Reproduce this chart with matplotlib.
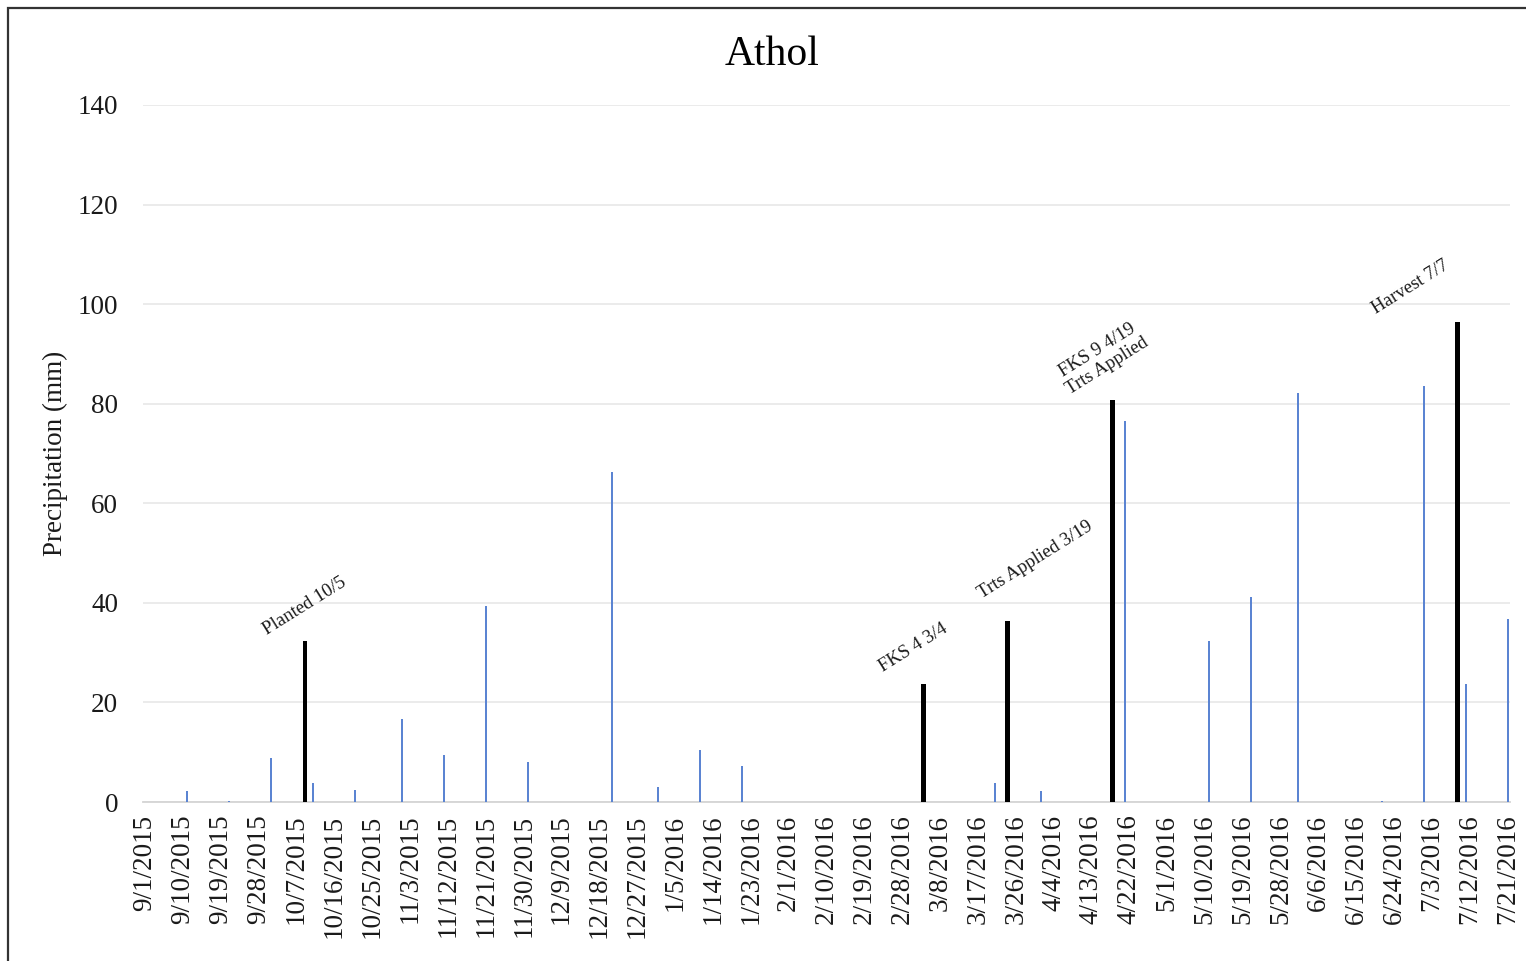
import matplotlib
matplotlib.use("Agg")
import matplotlib.pyplot as plt
import matplotlib.dates as mdates
from matplotlib.patches import Rectangle
import numpy as np
import pandas as pd

plt.rcParams['font.family'] = ['Liberation Serif', 'DejaVu Serif']

# ---- data ----
title = "Athol"
y_label = "Precipitation (mm)"

precip_dates = ['2015-09-11', '2015-09-21', '2015-10-01', '2015-10-11', '2015-10-21',
                '2015-11-01', '2015-11-11', '2015-11-21', '2015-12-01', '2015-12-11',
                '2015-12-21', '2016-01-01', '2016-01-11', '2016-01-21', '2016-02-01',
                '2016-02-11', '2016-02-21', '2016-03-01', '2016-03-11', '2016-03-21',
                '2016-04-01', '2016-04-11', '2016-04-21', '2016-05-01', '2016-05-11',
                '2016-05-21', '2016-06-01', '2016-06-11', '2016-06-21', '2016-07-01',
                '2016-07-11', '2016-07-21']
precip_mm = [2.2, 0.2, 8.9, 3.8, 2.5,
             16.6, 9.4, 39.3, 8.1, 0.0,
             66.3, 3.0, 10.5, 7.2, 0.0,
             0.0, 0.0, 0.0, 0.0, 3.9,
             2.2, 0.0, 76.5, 0.0, 32.4,
             41.2, 82.1, 0.0, 0.2, 83.6,
             23.7, 36.7]

event_dates = ['2015-10-09', '2016-03-04', '2016-03-24', '2016-04-18', '2016-07-09']
event_heights = [32.3, 23.8, 36.4, 80.8, 96.5]
event_labels = ['Planted 10/5', 'FKS 4 3/4', 'Trts Applied 3/19',
                'FKS 9 4/19\nTrts Applied', 'Harvest 7/7']

tick_start = '2015-09-01'
tick_end = '2016-07-21'
tick_step_days = 9
y_ticks = [0, 20, 40, 60, 80, 100, 120, 140]

# ---- figure ----
W, H = 1526, 961
fig = plt.figure(figsize=(W / 100, H / 100), dpi=100)
ax = fig.add_axes([143 / W, 1 - 802 / H, (1510 - 143) / W, (802 - 105) / H])

pdates = mdates.date2num(pd.to_datetime(precip_dates))
edates = mdates.date2num(pd.to_datetime(event_dates))

ax.bar(pdates, precip_mm, width=0.5, color='#5B84D2', linewidth=0, zorder=3)
ax.bar(edates, event_heights, width=1.15, color='black', linewidth=0, zorder=4)

# annotation offsets (pixels) relative to the bar top
offsets = [(0, 35), (-10, 36), (28, 61), (-10, 42), (-47, 34)]
for d, h, lab, off in zip(edates, event_heights, event_labels, offsets):
    ax.annotate(lab, xy=(d, h), xytext=off, textcoords='offset pixels',
                ha='center', va='center', rotation=32, rotation_mode='anchor',
                fontsize=13.5, color='#1a1a1a', linespacing=1.1, zorder=5)

tick_dates = pd.date_range(tick_start, tick_end, freq=f'{tick_step_days}D')
ax.set_xticks(mdates.date2num(tick_dates))
ax.set_xticklabels([f"{d.month}/{d.day}/{d.year}" for d in tick_dates],
                   rotation=90, fontsize=19.5, color='#1a1a1a')
start = mdates.date2num(pd.Timestamp(tick_start))
end = mdates.date2num(pd.Timestamp(tick_end))
ax.set_xlim(start - 0.5, end + 0.5)

ax.set_ylim(0, 140)
ax.set_yticks(y_ticks)
ax.set_yticklabels([str(v) for v in y_ticks], fontsize=19.5, color='#1a1a1a')

ax.tick_params(axis='both', length=0)
ax.tick_params(axis='x', pad=9)
ax.tick_params(axis='y', pad=18)

for s in ['top', 'right', 'left']:
    ax.spines[s].set_visible(False)
ax.spines['bottom'].set_color('#D4D4D4')
ax.spines['bottom'].set_linewidth(1.3)
ax.yaxis.grid(True, color='#E8E8E8', linewidth=1.2, zorder=0)
ax.set_axisbelow(True)

ax.set_ylabel(y_label, fontsize=19.5, color='#1a1a1a')
ax.yaxis.set_label_coords((68 - 143) / (1510 - 143), 0.5)

fig.text(772 / W, 1 - 55 / H, title, ha='center', va='center', fontsize=30, color='black')

# outer frame
fig.add_artist(Rectangle((8 / W, -0.05), 1.1, (1 - 8 / H) + 0.05,
                         transform=fig.transFigure, fill=False,
                         edgecolor='#333333', linewidth=1.6))

fig.savefig('out.png', dpi=100)
